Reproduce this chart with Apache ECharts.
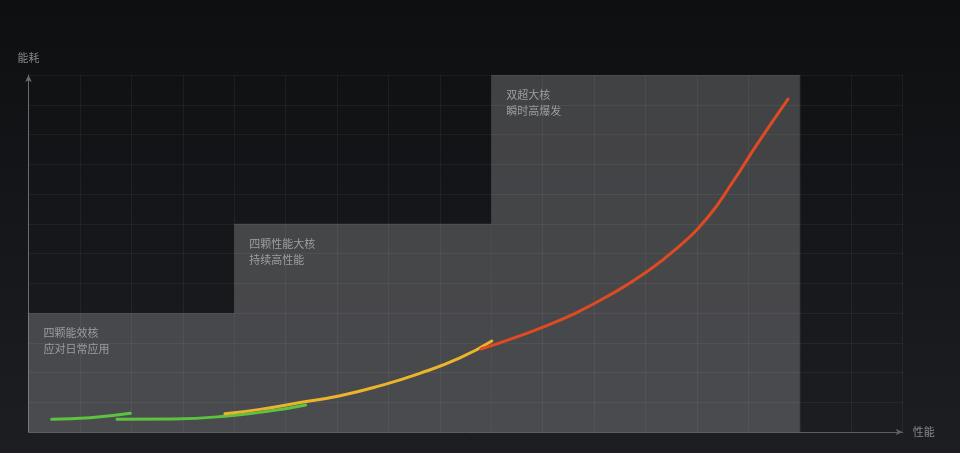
<!DOCTYPE html>
<html>
<head>
<meta charset="utf-8">
<script src="https://cdn.jsdelivr.net/npm/echarts@6/dist/echarts.min.js"></script>
<style>
html,body{margin:0;padding:0;background:#151619;}
#c{width:960px;height:453px;}
</style>
</head>
<body>
<div id="c"></div>
<script>
// Blocks: x range and top value
const blockX = [[0, 4], [4, 9], [9, 15]];
const blockTop = [4, 7, 12];
const blockLabels = ['四颗能效核\n应对日常应用', '四颗性能大核\n持续高性能', '双超大核\n瞬时高爆发'];

const greenA = [[0.45,0.43],[1.2,0.48],[1.98,0.63]];
const greenB = [[1.72,0.43],[2.81,0.44],[3.82,0.53],[4.75,0.72],[5.39,0.91]];
const yellow = [[3.82,0.61],[4.5,0.76],[5.28,0.99],[6.06,1.22],[6.83,1.55],[7.61,1.97],[8.39,2.49],[9.01,3.06]];
const red = [[8.8,2.79],[9.32,3.09],[9.98,3.51],[10.63,3.99],[11.27,4.57],[11.93,5.28],[12.57,6.12],[13.21,7.22],[13.7,8.42],[14.18,9.7],[14.77,11.19]];

const xName = '性能';
const yName = '能耗';

const chart = echarts.init(document.getElementById('c'));
const font = '"Noto Sans CJK SC", "Noto Sans", sans-serif';

const areas = blockX.map((b, i) => [
  {coord: [b[0], 0], name: blockLabels[i]},
  {coord: [b[1], blockTop[i]]}
]);

function lineSeries(data, color, z) {
  return {
    type: 'line', data: data, smooth: 0.5, showSymbol: false, silent: true,
    lineStyle: {color: color, width: 3, cap: 'round'}, z: z
  };
}

chart.setOption({
  backgroundColor: {
    type: 'linear', x: 0, y: 0, x2: 0, y2: 1,
    colorStops: [{offset: 0, color: '#0e0f11'}, {offset: 1, color: '#1d1e22'}]
  },
  animation: false,
  grid: {left: 28.5, right: 57.3, top: 75, bottom: 21, containLabel: false},
  xAxis: {
    type: 'value', min: 0, max: 17, interval: 1,
    name: xName, nameLocation: 'end', nameGap: 10,
    nameTextStyle: {color: '#85868a', fontSize: 11, fontFamily: font},
    axisLine: {show: true, symbol: ['none', 'arrow'], symbolSize: [5, 7], lineStyle: {color: '#5e5f63', width: 1}},
    axisTick: {show: false}, axisLabel: {show: false},
    splitLine: {show: true, lineStyle: {color: 'rgba(255,255,255,0.05)', width: 1}}
  },
  yAxis: {
    type: 'value', min: 0, max: 12, interval: 1,
    name: yName, nameLocation: 'end', nameGap: 12,
    nameTextStyle: {color: '#85868a', fontSize: 11, fontFamily: font, align: 'center'},
    axisLine: {show: true, symbol: ['none', 'arrow'], symbolSize: [5, 7], lineStyle: {color: '#6a6b6f', width: 1}},
    axisTick: {show: false}, axisLabel: {show: false},
    splitLine: {show: true, lineStyle: {color: 'rgba(255,255,255,0.05)', width: 1}}
  },
  series: [
    {
      type: 'line', data: [], silent: true,
      markArea: {
        silent: true,
        itemStyle: {color: 'rgba(255,255,255,0.205)'},
        label: {
          show: true, position: 'insideTopLeft', offset: [10, 7],
          color: '#9c9da1', fontSize: 11, lineHeight: 16, fontFamily: font,
          formatter: p => p.name
        },
        data: areas
      },
      z: 1
    },
    lineSeries(greenA, '#5cc23f', 3),
    lineSeries(greenB, '#5cc23f', 3),
    lineSeries(yellow, '#ebb42b', 4),
    lineSeries(red, '#de4a22', 5)
  ]
});
</script>
</body>
</html>
